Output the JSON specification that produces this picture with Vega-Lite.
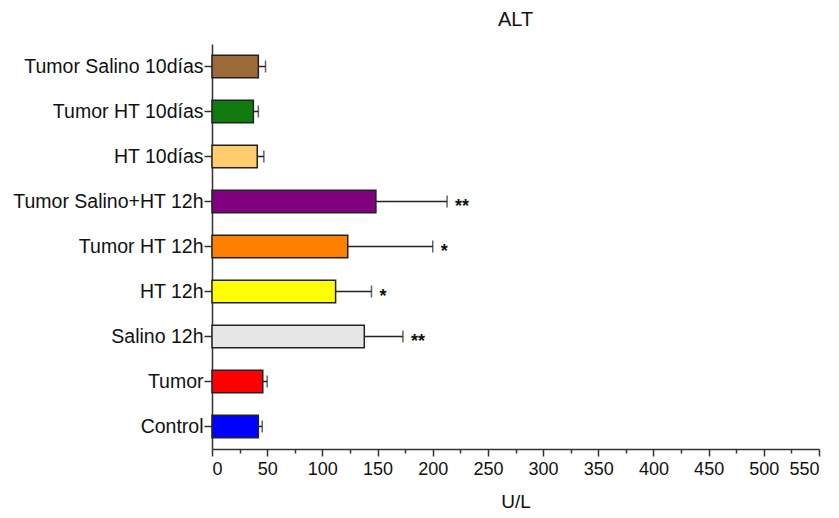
{
  "$schema": "https://vega.github.io/schema/vega-lite/v6.json",
  "width": 607,
  "height": 405,
  "autosize": {"type": "none"},
  "padding": {"left": 212, "top": 44, "right": 20, "bottom": 69},
  "title": {"text": "ALT", "fontSize": 20, "font": "Liberation Sans", "fontWeight": "normal", "offset": 14, "color": "#111"},
  "config": {"view": {"stroke": null}, "font": "Liberation Sans"},
  "data": {
    "values": [
      {"group": "Tumor Salino 10días", "value": 42, "upper": 48.5, "sig": ""},
      {"group": "Tumor HT 10días", "value": 37.5, "upper": 42, "sig": ""},
      {"group": "HT 10días", "value": 41, "upper": 47, "sig": ""},
      {"group": "Tumor Salino+HT 12h", "value": 148.5, "upper": 213, "sig": "**"},
      {"group": "Tumor HT 12h", "value": 123, "upper": 200, "sig": "*"},
      {"group": "HT 12h", "value": 112, "upper": 144.5, "sig": "*"},
      {"group": "Salino 12h", "value": 138, "upper": 173, "sig": "**"},
      {"group": "Tumor", "value": 46, "upper": 50, "sig": ""},
      {"group": "Control", "value": 42, "upper": 45.5, "sig": ""}
    ]
  },
  "encoding": {
    "y": {
      "field": "group", "type": "nominal", "sort": null,
      "scale": {"paddingInner": 0.5, "paddingOuter": 0.25},
      "axis": {"title": null, "labelFontSize": 19.5, "labelLimit": 400, "labelColor": "#111", "tickSize": 8, "tickWidth": 1.5, "tickColor": "#333", "domainColor": "#333", "domainWidth": 1.5, "labelPadding": 1}
    }
  },
  "layer": [
    {
      "mark": {"type": "bar", "stroke": "#222", "strokeWidth": 1.5},
      "encoding": {
        "x": {
          "field": "value", "type": "quantitative",
          "scale": {"domain": [0, 550], "nice": false},
          "axis": {"orient": "bottom", "values": [0,50,100,150,200,250,300,350,400,450,500,550], "title": "U/L", "titleFontSize": 19, "titleFontWeight": "normal", "titleColor": "#111", "titlePadding": 14, "labelFontSize": 18, "labelColor": "#111", "tickSize": 7, "tickWidth": 1.5, "tickColor": "#333", "domainColor": "#333", "domainWidth": 1.5, "grid": false, "labelPadding": 4}
        },
        "color": {
          "field": "group", "type": "nominal", "legend": null,
          "scale": {
            "domain": ["Tumor Salino 10días", "Tumor HT 10días", "HT 10días", "Tumor Salino+HT 12h", "Tumor HT 12h", "HT 12h", "Salino 12h", "Tumor", "Control"],
            "range": ["#9C6A38", "#107A10", "#FFCC6E", "#800080", "#FF8000", "#FFFF00", "#E6E6E6", "#FF0000", "#0000FF"]
          }
        }
      }
    },
    {
      "mark": {"type": "rule", "stroke": "#222", "strokeWidth": 1.5},
      "encoding": {
        "x": {
          "field": "value", "type": "quantitative",
          "scale": {"domain": [0, 550], "nice": false},
          "axis": {"orient": "bottom", "values": [25,75,125,175,225,275,325,375,425,475,525], "labels": false, "title": null, "tickSize": 4, "tickWidth": 1.5, "tickColor": "#333", "domain": false, "grid": false}
        },
        "x2": {"field": "upper"}
      }
    },
    {
      "mark": {"type": "tick", "color": "#222", "thickness": 1.5, "size": 12, "orient": "vertical"},
      "encoding": {
        "x": {"field": "upper", "type": "quantitative", "scale": {"domain": [0, 550], "nice": false}, "axis": null}
      }
    },
    {
      "mark": {"type": "text", "align": "left", "baseline": "middle", "dx": 8, "dy": 5, "fontSize": 18, "fontWeight": "bold", "color": "#111"},
      "encoding": {
        "x": {"field": "upper", "type": "quantitative", "scale": {"domain": [0, 550], "nice": false}, "axis": null},
        "text": {"field": "sig"}
      }
    }
  ],
  "resolve": {"axis": {"x": "independent"}}
}
